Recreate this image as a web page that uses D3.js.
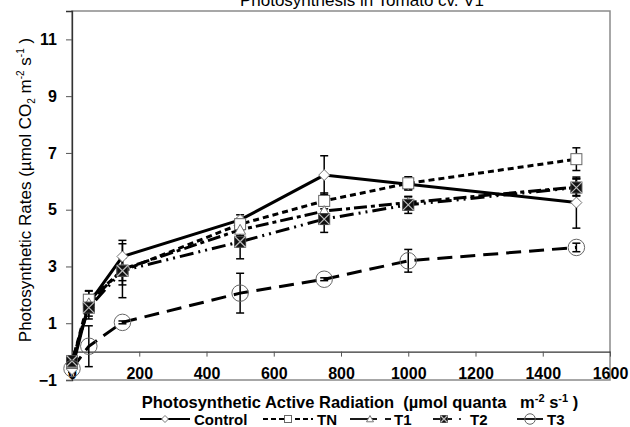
<!DOCTYPE html>
<html>
<head>
<meta charset="utf-8">
<script src="https://cdn.jsdelivr.net/npm/d3@7"></script>
<style>
  body { margin: 0; background: #fff; }
  svg { font-family: "Liberation Sans", Arial, sans-serif; }
</style>
</head>
<body>
<div id="okvir"></div>
<script>
// podaci
const parVrijednosti = [0, 50, 150, 500, 750, 1000, 1500]
const serije = ["Control", "TN", "T1", "T2", "T3"]
const control = [-0.62, 1.7, 3.35, 4.64, 6.22, 5.9, 5.25]
const controlErr = [0.1, 0.45, 0.57, 0.18, 0.68, 0.2, 0.9]
const tn = [-0.4, 1.83, 2.85, 4.49, 5.31, 5.93, 6.78]
const tnErr = [0.1, 0.3, 0.95, 0.2, 0.28, 0.23, 0.4]
const t1 = [-0.4, 1.7, 2.9, 4.29, 4.95, 5.25, 5.8]
const t1Err = [0.1, 0.3, 0.4, 0.2, 0.2, 0.2, 0.3]
const t2 = [-0.33, 1.55, 2.85, 3.87, 4.67, 5.17, 5.78]
const t2Err = [0.1, 0.4, 0.5, 0.6, 0.47, 0.3, 0.3]
const t3 = [-0.6, 0.19, 1.03, 2.06, 2.55, 3.2, 3.67]
const t3Err = [0.1, 0.72, 0.05, 0.7, 0.05, 0.4, 0.15]
const xTicks = [0, 200, 400, 600, 800, 1000, 1200, 1400, 1600]
const yTicks = [-1, 1, 3, 5, 7, 9, 11]

const vrijednosti = [control, tn, t1, t2, t3]
const greske = [controlErr, tnErr, t1Err, t2Err, t3Err]
const crtice = ["none", "6,4", "13,4,4,4", "14,5,2,5,2,5", "15,8"]
const oblici = ["diamond", "square", "triangle", "xsquare", "circle"]

const dimenzije = {
  sirina: 630,
  visina: 427,
  margine: { top: 11, right: 20, bottom: 47, left: 72 },
}
dimenzije.grSirina = dimenzije.sirina - dimenzije.margine.left - dimenzije.margine.right
dimenzije.grVisina = dimenzije.visina - dimenzije.margine.top - dimenzije.margine.bottom

const okvir = d3.select("#okvir").append("svg")
    .attr("width", dimenzije.sirina)
    .attr("height", dimenzije.visina)

const granice = okvir.append("g")
    .attr("transform", `translate(${dimenzije.margine.left},${dimenzije.margine.top})`)

const xSkala = d3.scaleLinear().domain([0, 1600]).range([0, dimenzije.grSirina])
const ySkala = d3.scaleLinear().domain([-1, 12]).range([dimenzije.grVisina, 0])

// okvir grafa
granice.append("rect")
    .attr("width", dimenzije.grSirina)
    .attr("height", dimenzije.grVisina)
    .attr("fill", "none")
    .attr("stroke", "#8a8a8a")
    .attr("stroke-width", 1.5)

// y os
const yOs = granice.append("g")
    .call(d3.axisLeft(ySkala).tickValues(yTicks).tickSize(6).tickPadding(9))
yOs.select(".domain").attr("stroke", "#333").attr("stroke-width", 1.3)
yOs.selectAll(".tick line").attr("stroke", "#555")
yOs.selectAll("text").attr("font-size", 16).attr("font-weight", "bold")
    .attr("font-family", "Liberation Sans, Arial, sans-serif").attr("fill", "#000")

// x os na y = 0
const xOs = granice.append("g")
    .attr("transform", `translate(0,${ySkala(0)})`)
    .call(d3.axisBottom(xSkala).tickValues(xTicks).tickFormat(d3.format("d")).tickSize(5).tickSizeOuter(0))
xOs.select(".domain").attr("stroke", "#333").attr("stroke-width", 1.2)
xOs.selectAll(".tick line").attr("stroke", "#555")
xOs.selectAll("text")
    .attr("y", ySkala(-1) - ySkala(0) - 1)
    .attr("dy", 0)
    .attr("font-size", 16).attr("font-weight", "bold")
    .attr("font-family", "Liberation Sans, Arial, sans-serif").attr("fill", "#000")

// markeri
function marker(sel, oblik, s) {
  if (oblik === "diamond") {
    sel.append("path").attr("d", `M0,${-s}L${s},0L0,${s}L${-s},0Z`)
      .attr("fill", "#fff").attr("stroke", "#777").attr("stroke-width", 1)
  } else if (oblik === "square") {
    sel.append("rect").attr("x", -s).attr("y", -s).attr("width", 2 * s).attr("height", 2 * s)
      .attr("fill", "#fff").attr("stroke", "#666").attr("stroke-width", 1)
  } else if (oblik === "triangle") {
    sel.append("path").attr("d", `M0,${-s}L${s},${s * 0.8}L${-s},${s * 0.8}Z`)
      .attr("fill", "#fff").attr("stroke", "#777").attr("stroke-width", 1)
  } else if (oblik === "xsquare") {
    sel.append("rect").attr("x", -s).attr("y", -s).attr("width", 2 * s).attr("height", 2 * s)
      .attr("fill", "#111").attr("stroke", "#444").attr("stroke-width", 1)
    sel.append("path").attr("d", `M${-s},${-s}L${s},${s}M${s},${-s}L${-s},${s}`)
      .attr("stroke", "#bbb").attr("stroke-width", 1.2)
  } else {
    sel.append("circle").attr("r", s * 1.5)
      .attr("fill", "none").attr("stroke", "#666").attr("stroke-width", 1)
  }
}

const generatorLinije = d3.line()
    .x((d, i) => xSkala(parVrijednosti[i]))
    .y(d => ySkala(d))

serije.forEach((ime, k) => {
  const g = granice.append("g")
  g.append("path")
      .attr("d", generatorLinije(vrijednosti[k]))
      .attr("fill", "none")
      .attr("stroke", "#000")
      .attr("stroke-width", 3)
      .attr("stroke-dasharray", crtice[k])

  // error bars
  vrijednosti[k].forEach((v, i) => {
    const x = xSkala(parVrijednosti[i])
    const e = greske[k][i]
    const eb = g.append("g").attr("stroke", "#000").attr("stroke-width", 1.5)
    eb.append("line").attr("x1", x).attr("x2", x).attr("y1", ySkala(v - e)).attr("y2", ySkala(v + e))
    eb.append("line").attr("x1", x - 4).attr("x2", x + 4).attr("y1", ySkala(v - e)).attr("y2", ySkala(v - e))
    eb.append("line").attr("x1", x - 4).attr("x2", x + 4).attr("y1", ySkala(v + e)).attr("y2", ySkala(v + e))
  })
})

serije.forEach((ime, k) => {
  vrijednosti[k].forEach((v, i) => {
    const m = granice.append("g")
        .attr("transform", `translate(${xSkala(parVrijednosti[i])},${ySkala(v)})`)
    marker(m, oblici[k], 5.5)
  })
})

// naslov (odrezan na vrhu, kao u originalu)
okvir.append("text")
    .attr("x", 362).attr("y", 6)
    .attr("text-anchor", "middle")
    .attr("font-size", 17)
    .text("Photosynthesis in Tomato cv. V1")

// naslov y osi
const yNaslov = okvir.append("text")
    .attr("transform", "translate(31,190) rotate(-90)")
    .attr("text-anchor", "middle")
    .attr("font-size", 17)
yNaslov.append("tspan").text("Photosynthetic Rates (µmol CO")
yNaslov.append("tspan").attr("font-size", 10).attr("dy", 4).text("2")
yNaslov.append("tspan").attr("dy", -4).text(" m")
yNaslov.append("tspan").attr("font-size", 10).attr("dy", -7).text("-2")
yNaslov.append("tspan").attr("dy", 7).text(" s")
yNaslov.append("tspan").attr("font-size", 10).attr("dy", -7).text("-1")
yNaslov.append("tspan").attr("dy", 7).text(" )")

// naslov x osi
const xNaslov = okvir.append("text")
    .attr("x", 360).attr("y", 408)
    .attr("text-anchor", "middle")
    .attr("font-size", 16.5)
    .attr("font-weight", "bold")
    .style("white-space", "pre")
xNaslov.append("tspan").text("Photosynthetic Active Radiation  (µmol quanta   m")
xNaslov.append("tspan").attr("font-size", 11).attr("dy", -6).text("-2")
xNaslov.append("tspan").attr("dy", 6).text(" s")
xNaslov.append("tspan").attr("font-size", 11).attr("dy", -6).text("-1")
xNaslov.append("tspan").attr("dy", 6).text(" )")

// legenda
const legendaX = [140, 263, 350, 433, 517]
const legendaDuljina = [50, 50, 27, 19, 26]
const legenda = okvir.append("g").attr("transform", "translate(0,419)")
serije.forEach((ime, k) => {
  const x0 = legendaX[k]
  const L = legendaDuljina[k]
  const li = legenda.append("g")
  li.append("line")
      .attr("x1", x0).attr("x2", x0 + L)
      .attr("stroke", "#000").attr("stroke-width", 1.8)
      .attr("stroke-dasharray", k === 1 ? "5,3" : "none")
  let tx = x0 + L + 4
  if (k === 2) {
    li.append("line").attr("x1", x0 + L + 8).attr("x2", x0 + L + 14)
        .attr("stroke", "#000").attr("stroke-width", 1.8)
    tx = x0 + L + 17
  }
  if (k === 3) {
    li.append("circle").attr("cx", x0 + L + 8).attr("cy", 0).attr("r", 1).attr("fill", "#000")
    tx = x0 + L + 18
  }
  const mx = k === 2 ? x0 + 20 : (k === 3 ? x0 + 11 : x0 + L / 2)
  const m = li.append("g").attr("transform", `translate(${mx},0)`)
  marker(m, oblici[k], 3.5)
  li.append("text")
      .attr("x", tx).attr("y", 6)
      .attr("font-size", 15).attr("font-weight", "bold")
      .text(ime)
})
</script>
</body>
</html>
